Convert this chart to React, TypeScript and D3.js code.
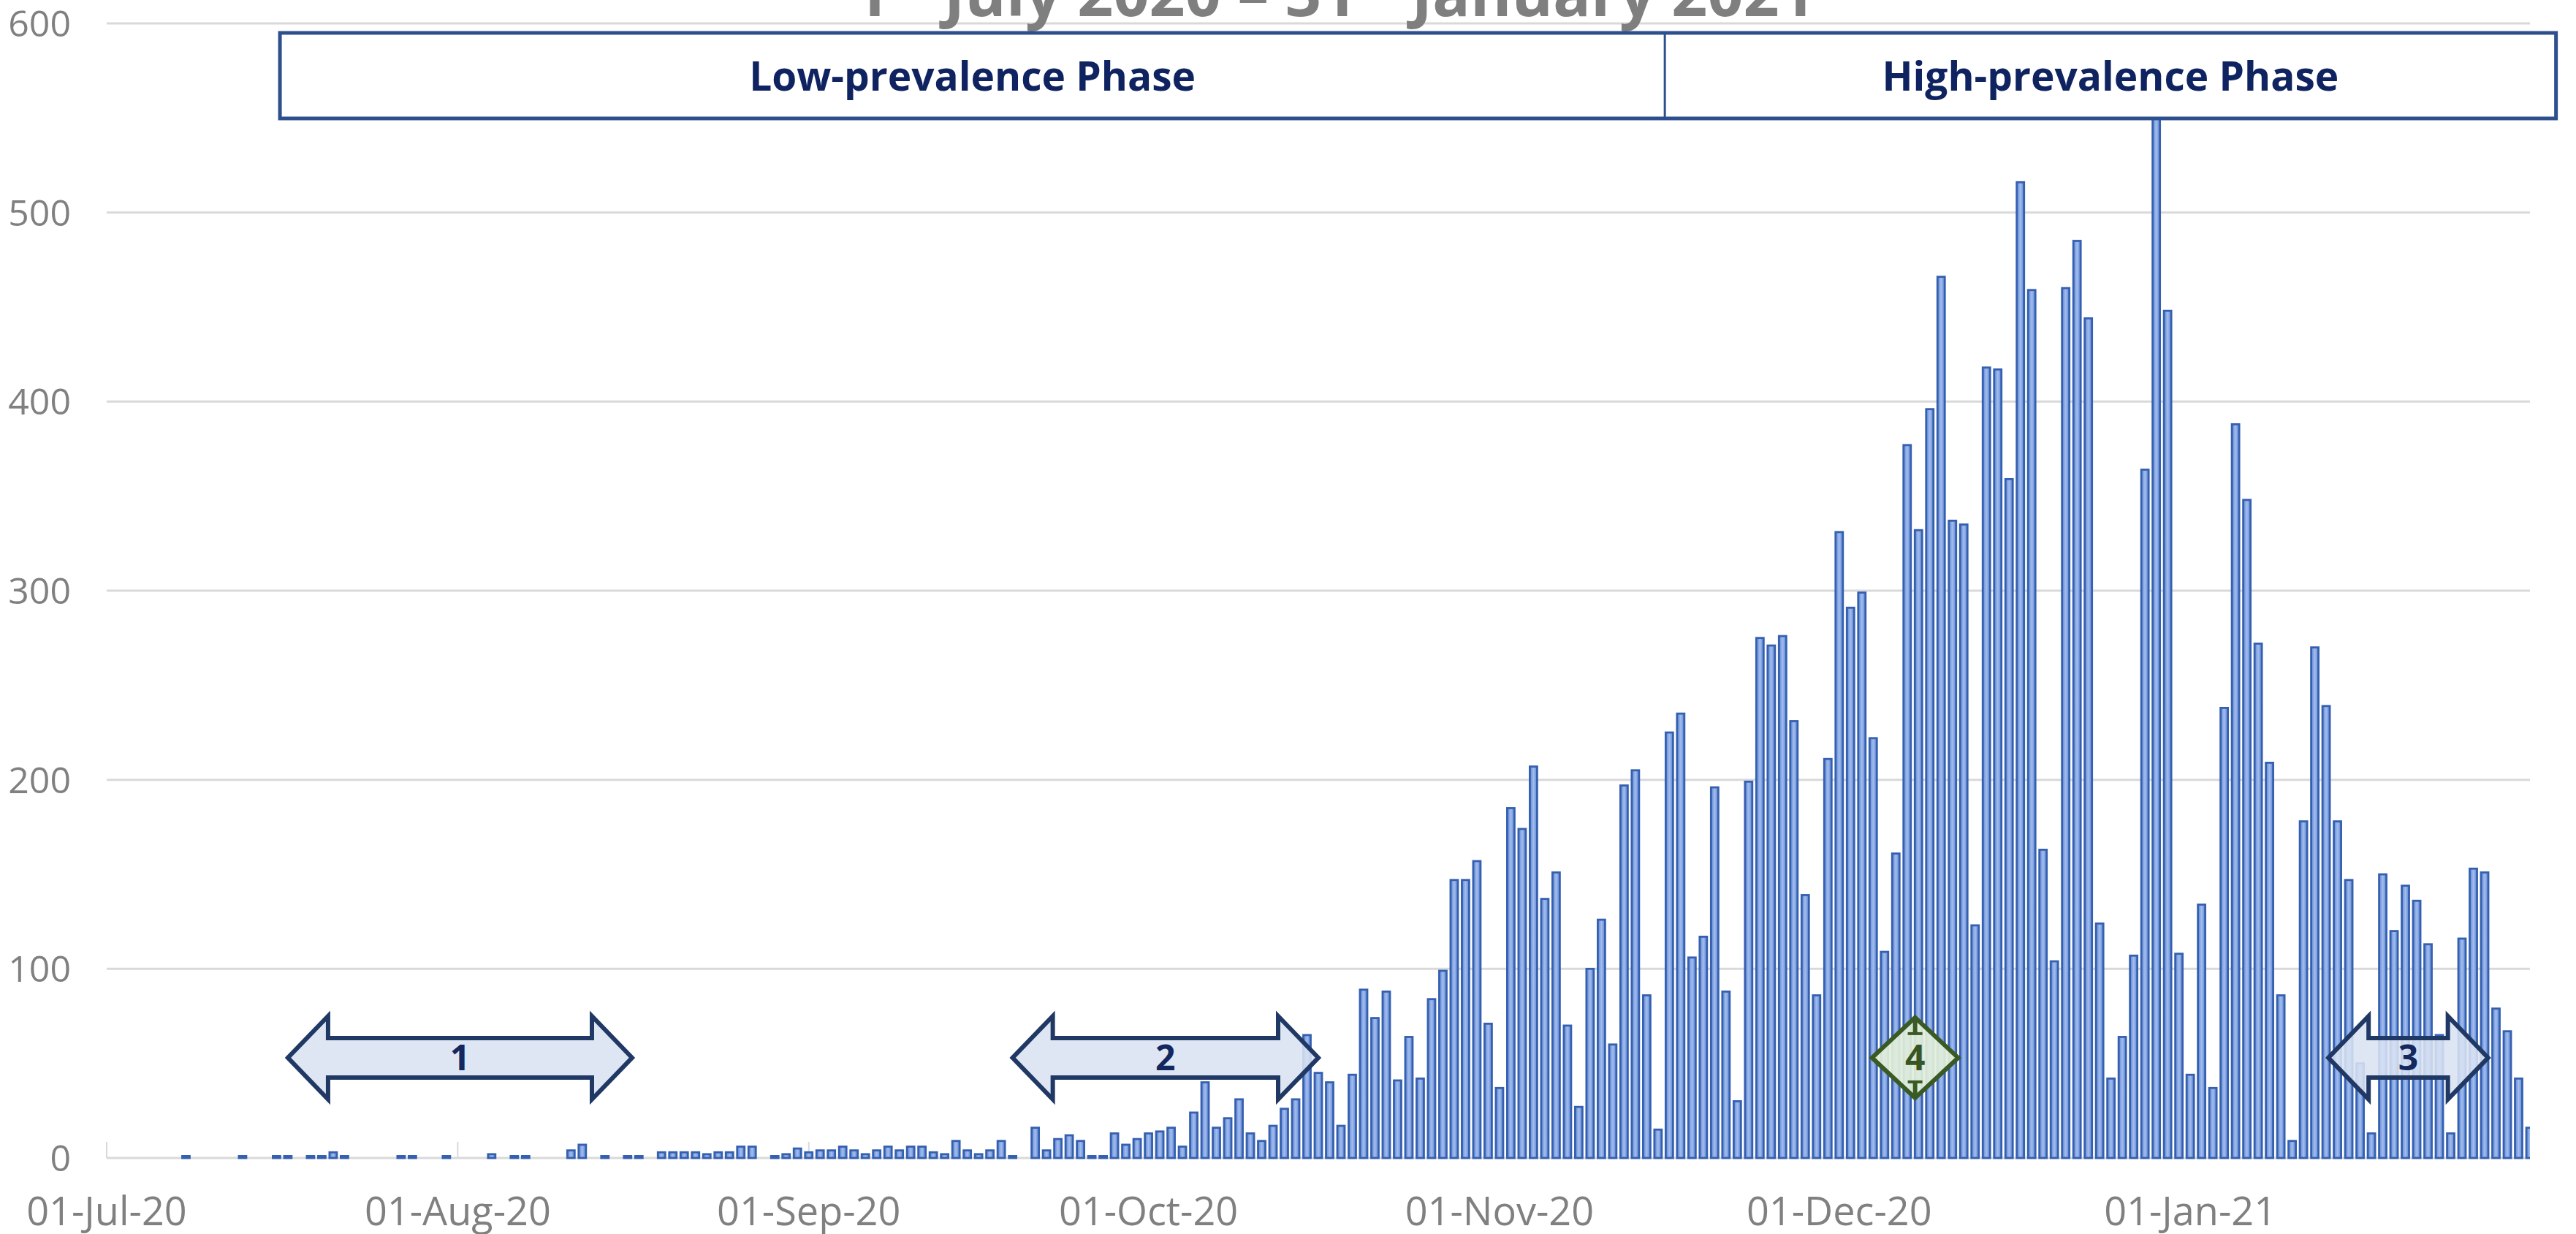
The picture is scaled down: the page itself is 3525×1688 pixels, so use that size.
import { useEffect, useRef } from "react";
import * as d3 from "d3";

// daily counts, 1 Jul 2020 .. 31 Jan 2021
const julyCounts = [0, 0, 0, 0, 0, 0, 0, 1, 0, 0, 0, 0, 1, 0, 0, 1, 1, 0, 1, 1, 3, 1, 0, 0, 0, 0, 1, 1, 0, 0, 1];
const augustCounts = [0, 0, 0, 2, 0, 1, 1, 0, 0, 0, 4, 7, 0, 1, 0, 1, 1, 0, 3, 3, 3, 3, 2, 3, 3, 6, 6, 0, 1, 2, 5];
const septemberCounts = [3, 4, 4, 6, 4, 2, 4, 6, 4, 6, 6, 3, 2, 9, 4, 2, 4, 9, 1, 0, 16, 4, 10, 12, 9, 1, 1, 13, 7, 10];
const octoberCounts = [13, 14, 16, 6, 24, 40, 16, 21, 31, 13, 9, 17, 26, 31, 65, 45, 40, 17, 44, 89, 74, 88, 41, 64, 42, 84, 99, 147, 147, 157, 71];
const novemberCounts = [37, 185, 174, 207, 137, 151, 70, 27, 100, 126, 60, 197, 205, 86, 15, 225, 235, 106, 117, 196, 88, 30, 199, 275, 271, 276, 231, 139, 86, 211];
const decemberCounts = [331, 291, 299, 222, 109, 161, 377, 332, 396, 466, 337, 335, 123, 418, 417, 359, 516, 459, 163, 104, 460, 485, 444, 124, 42, 64, 107, 364, 552, 448, 108];
const januaryCounts = [44, 134, 37, 238, 388, 348, 272, 209, 86, 9, 178, 270, 239, 178, 147, 50, 13, 150, 120, 144, 136, 113, 65, 13, 116, 153, 151, 79, 67, 42, 16];

const yTicks = [0, 100, 200, 300, 400, 500, 600];

// phase boxes, in days after 1 Jul
const phaseLabels = ["Low-prevalence Phase", "High-prevalence Phase"];
const phaseBounds = [15.3, 137.6, 216.3];

// double arrows 1..3 and diamond 4, in days after 1 Jul
const arrowLabels = ["1", "2", "3"];
const arrowFrom = [16, 80, 196.2];
const arrowTo = [46.4, 107, 210.3];
const diamondLabel = "4";
const diamondFrom = 155.9;
const diamondTo = 163.5;
const markerLevel = 53;

const W = 3525;
const H = 1688;

const App = () => {
    const svgRef = useRef(null);

    useEffect(() => {
        const counts = [
            ...julyCounts, ...augustCounts, ...septemberCounts, ...octoberCounts,
            ...novemberCounts, ...decemberCounts, ...januaryCounts,
        ];
        const start = new Date(Date.UTC(2020, 6, 1));
        const end = d3.utcDay.offset(start, counts.length - 1);

        const svg = d3.select(svgRef.current);
        svg.selectAll("*").remove();

        const x = d3.scaleLinear().domain([0, counts.length - 1]).range([146, 3462]);
        const y = d3.scaleLinear().domain([0, 600]).range([1584, 32]);
        const font = "'Open Sans', 'Liberation Sans', sans-serif";

        const defs = svg.append("defs");
        const grad = defs.append("linearGradient").attr("id", "barFill")
            .attr("x1", "0").attr("x2", "1").attr("y1", "0").attr("y2", "0");
        grad.append("stop").attr("offset", "0").attr("stop-color", "#5f86d2");
        grad.append("stop").attr("offset", "0.5").attr("stop-color", "#a2bdee");
        grad.append("stop").attr("offset", "1").attr("stop-color", "#5f86d2");
        defs.append("clipPath").attr("id", "plotClip")
            .append("rect").attr("x", x(0)).attr("y", 0)
            .attr("width", x(counts.length - 1) - x(0)).attr("height", H);

        // gridlines
        svg.append("g").selectAll("line").data(yTicks).join("line")
            .attr("x1", x(0)).attr("x2", x(counts.length - 1))
            .attr("y1", d => y(d)).attr("y2", d => y(d))
            .attr("stroke", "#d9d9d9").attr("stroke-width", 3);

        // y labels
        svg.append("g").selectAll("text").data(yTicks).join("text")
            .attr("x", 97).attr("y", d => y(d))
            .attr("dy", "0.36em")
            .attr("text-anchor", "end")
            .attr("font-family", font).attr("font-size", 50)
            .attr("fill", "#808080")
            .text(d => d);

        // month ticks + labels
        const months = d3.utcMonths(start, d3.utcDay.offset(end, 1));
        const fmt = d3.utcFormat("%d-%b-%y");
        const mg = svg.append("g");
        months.forEach(m => {
            const i = d3.utcDay.count(start, m);
            mg.append("line")
                .attr("x1", x(i)).attr("x2", x(i))
                .attr("y1", y(0)).attr("y2", y(0) - 22)
                .attr("stroke", "#d9d9d9").attr("stroke-width", 2);
            mg.append("text")
                .attr("x", x(i)).attr("y", 1676)
                .attr("text-anchor", "middle")
                .attr("font-family", font).attr("font-size", 54)
                .attr("fill", "#808080")
                .text(fmt(m));
        });

        // bars
        const barW = 10;
        svg.append("g").attr("clip-path", "url(#plotClip)")
            .selectAll("rect").data(counts).join("rect")
            .attr("x", (_, i) => x(i) - barW / 2)
            .attr("y", d => y(d))
            .attr("width", barW)
            .attr("height", d => y(0) - y(d))
            .attr("fill", "url(#barFill)")
            .attr("stroke", "#3560b0")
            .attr("stroke-width", d => (d > 0 ? 2.8 : 0));

        // title (top part runs off the page)
        const title = svg.append("text")
            .attr("x", 1826).attr("y", 22)
            .attr("text-anchor", "middle")
            .attr("font-family", font).attr("font-weight", "bold")
            .attr("font-size", 86).attr("fill", "#7f7f7f");
        title.append("tspan").text("1");
        title.append("tspan").attr("dy", -30).attr("font-size", 56).text("st");
        title.append("tspan").attr("dy", 30).text(" July 2020 \u2013 31");
        title.append("tspan").attr("dy", -30).attr("font-size", 56).text("st");
        title.append("tspan").attr("dy", 30).text(" January 2021");

        // phase boxes
        const pg = svg.append("g");
        pg.append("rect")
            .attr("x", x(phaseBounds[0])).attr("y", 45)
            .attr("width", x(phaseBounds[2]) - x(phaseBounds[0])).attr("height", 117)
            .attr("fill", "white").attr("stroke", "#2e4f8e").attr("stroke-width", 5);
        pg.append("line")
            .attr("x1", x(phaseBounds[1])).attr("x2", x(phaseBounds[1]))
            .attr("y1", 45).attr("y2", 162)
            .attr("stroke", "#2e4f8e").attr("stroke-width", 3);
        phaseLabels.forEach((label, k) => {
            pg.append("text")
                .attr("x", (x(phaseBounds[k]) + x(phaseBounds[k + 1])) / 2)
                .attr("y", 124)
                .attr("text-anchor", "middle")
                .attr("font-family", font).attr("font-weight", "bold")
                .attr("font-size", 55).attr("fill", "#0e2360")
                .text(label);
        });

        // double arrows
        const cy = y(markerLevel);
        const ag = svg.append("g");
        arrowLabels.forEach((label, k) => {
            const x1 = x(arrowFrom[k]);
            const x2 = x(arrowTo[k]);
            const L = 55, hh = 57, sh = 27;
            const pts = [
                [x1, cy], [x1 + L, cy - hh], [x1 + L, cy - sh], [x2 - L, cy - sh],
                [x2 - L, cy - hh], [x2, cy], [x2 - L, cy + hh], [x2 - L, cy + sh],
                [x1 + L, cy + sh], [x1 + L, cy + hh],
            ];
            ag.append("polygon")
                .attr("points", pts.map(p => p.join(",")).join(" "))
                .attr("fill", "#dae3f3").attr("fill-opacity", 0.88)
                .attr("stroke", "#203864").attr("stroke-width", 6)
                .attr("stroke-linejoin", "miter");
            ag.append("text")
                .attr("x", (x1 + x2) / 2).attr("y", cy)
                .attr("dy", "0.36em")
                .attr("text-anchor", "middle")
                .attr("font-family", font).attr("font-weight", "bold")
                .attr("font-size", 48).attr("fill", "#13285e")
                .text(label);
        });

        // diamond 4
        const d1 = x(diamondFrom);
        const d2 = x(diamondTo);
        const dc = (d1 + d2) / 2;
        const dh = 55;
        const dg = svg.append("g");
        dg.append("polygon")
            .attr("points", [[d1, cy], [dc, cy - dh], [d2, cy], [dc, cy + dh]].map(p => p.join(",")).join(" "))
            .attr("fill", "#e2efda").attr("fill-opacity", 0.92)
            .attr("stroke", "#3a5a24").attr("stroke-width", 6);
        [[cy - dh, cy - dh + 22], [cy + dh, cy + dh - 22]].forEach(([a, b]) => {
            dg.append("line").attr("x1", dc).attr("x2", dc).attr("y1", a).attr("y2", b)
                .attr("stroke", "#3a5a24").attr("stroke-width", 6);
            dg.append("line").attr("x1", dc - 10).attr("x2", dc + 10).attr("y1", b).attr("y2", b)
                .attr("stroke", "#3a5a24").attr("stroke-width", 4);
        });
        dg.append("text")
            .attr("x", dc).attr("y", cy)
            .attr("dy", "0.36em")
            .attr("text-anchor", "middle")
            .attr("font-family", font).attr("font-weight", "bold")
            .attr("font-size", 48).attr("fill", "#375623")
            .text(diamondLabel);
    }, []);

    return (
        <svg
            ref={svgRef}
            width={W}
            height={H}
            style={{ position: "absolute", left: 0, top: 0, display: "block", background: "white" }}
        />
    );
};

export default App;
